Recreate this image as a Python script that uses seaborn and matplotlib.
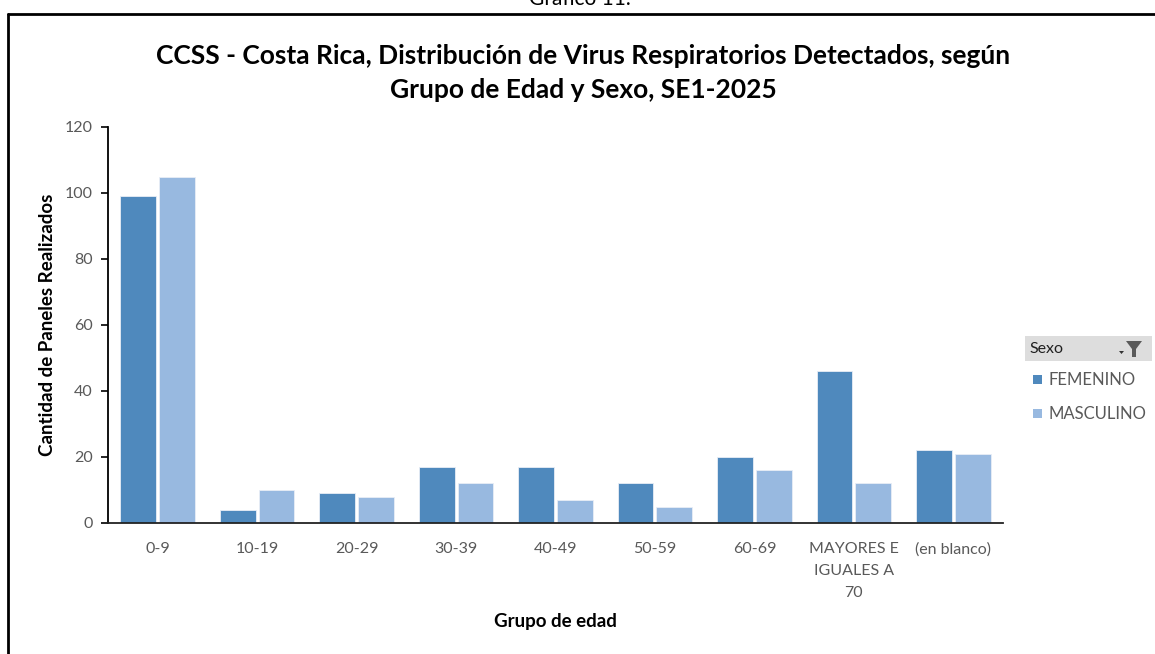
import matplotlib
matplotlib.use("Agg")
import matplotlib.pyplot as plt
from matplotlib.patches import Rectangle, Polygon
from matplotlib.lines import Line2D
import seaborn as sns
import pandas as pd

# Age groups and counts per sex
grupos = ["0-9", "10-19", "20-29", "30-39", "40-49", "50-59", "60-69",
          "MAYORES E\nIGUALES A\n70", "(en blanco)"]
femenino = [99, 4, 9, 17, 17, 12, 20, 46, 22]
masculino = [105, 10, 8, 12, 7, 5, 16, 12, 21]
sexos = ["FEMENINO", "MASCULINO"]
colores = ["#4F89BD", "#98B9E0"]
yticks = [0, 20, 40, 60, 80, 100, 120]

df = pd.DataFrame({
    "Grupo": grupos * 2,
    "Sexo": [sexos[0]] * len(grupos) + [sexos[1]] * len(grupos),
    "Cantidad": femenino + masculino,
})

sns.set_theme(style="white")
plt.rcParams["font.family"] = ["Lato", "DejaVu Sans"]

W, H = 1155, 654
fig = plt.figure(figsize=(W / 100, H / 100), dpi=100)
ax = fig.add_axes([108 / W, 1 - 523 / H, (1003 - 108) / W, (523 - 127) / H])

sns.barplot(data=df, x="Grupo", y="Cantidad", hue="Sexo", order=grupos,
            hue_order=sexos, palette=colores, width=0.78, gap=0.08,
            saturation=1, edgecolor="#E8EEF6", linewidth=0.6, ax=ax,
            legend=False)

ax.set_ylim(0, 120)
ax.set_xlim(-0.5, len(grupos) - 0.5)
ax.set_yticks(yticks)
ax.tick_params(axis="y", length=5, width=1.2, color="black", direction="out",
               labelsize=11.5, labelcolor="#595959", pad=6, left=True)
ax.tick_params(axis="x", length=0, labelsize=11.5, labelcolor="#595959", pad=14)
for lbl in ax.get_xticklabels():
    lbl.set_linespacing(1.7)

for side in ["top", "right"]:
    ax.spines[side].set_visible(False)
ax.spines["left"].set_color("black")
ax.spines["left"].set_linewidth(1.3)
ax.spines["bottom"].set_color("#222222")
ax.spines["bottom"].set_linewidth(1.3)

ax.set_xlabel("Grupo de edad", fontsize=13.5, fontweight="bold", color="black")
ax.set_ylabel("Cantidad de Paneles Realizados", fontsize=13.5,
              fontweight="bold", color="black")
ax.xaxis.set_label_coords((555 - 108) / (1003 - 108), -(613 - 523) / (523 - 127))
ax.yaxis.set_label_coords(-(108 - 56) / (1003 - 108), (523 - 325) / (523 - 127))

# Title
fig.text(583 / W, 1 - 56 / H,
         "CCSS - Costa Rica, Distribución de Virus Respiratorios Detectados, según",
         ha="center", va="center", fontsize=19, fontweight="bold", color="black")
fig.text(583 / W, 1 - 90 / H, "Grupo de Edad y Sexo, SE1-2025",
         ha="center", va="center", fontsize=19, fontweight="bold", color="black")

# Caption above the framed area
fig.text(580 / W, 1 - 5 / H, "Gráfico 11.", ha="center", va="baseline",
         fontsize=15, color="black")

# Frame around the chart
fig.add_artist(Line2D([8 / W, 1], [1 - 14 / H, 1 - 14 / H], color="black",
                      lw=2, transform=fig.transFigure))
fig.add_artist(Line2D([8 / W, 8 / W], [0, 1 - 14 / H], color="black",
                      lw=2, transform=fig.transFigure))

# Legend with header bar and filter icon
fig.add_artist(Rectangle((1025 / W, 1 - 361 / H), (1152 - 1025) / W, 25 / H,
                         facecolor="#DDDDDD", edgecolor="none",
                         transform=fig.transFigure))
fig.text(1029 / W, 1 - 349 / H, "Sexo", ha="left", va="center", fontsize=11.5,
         color="#1F1F1F")
fig.add_artist(Polygon([(1126 / W, 1 - 341 / H), (1142 / W, 1 - 341 / H),
                        (1136 / W, 1 - 349 / H), (1136 / W, 1 - 357 / H),
                        (1132 / W, 1 - 357 / H), (1132 / W, 1 - 349 / H)],
                       closed=True, facecolor="#5A5A5A", edgecolor="none",
                       transform=fig.transFigure))
fig.add_artist(Polygon([(1119 / W, 1 - 351 / H), (1124 / W, 1 - 351 / H),
                        (1121.5 / W, 1 - 354 / H)], closed=True,
                       facecolor="#333333", edgecolor="none",
                       transform=fig.transFigure))
for i, (nombre, col) in enumerate(zip(sexos, colores)):
    yc = 380 + i * 34
    fig.add_artist(Rectangle((1033 / W, 1 - (yc + 4) / H), 9 / W, 9 / H,
                             facecolor=col, edgecolor="none",
                             transform=fig.transFigure))
    fig.text(1048 / W, 1 - yc / H, nombre, ha="left", va="center",
             fontsize=12, color="#595959")

fig.savefig("out.png", dpi=100)
